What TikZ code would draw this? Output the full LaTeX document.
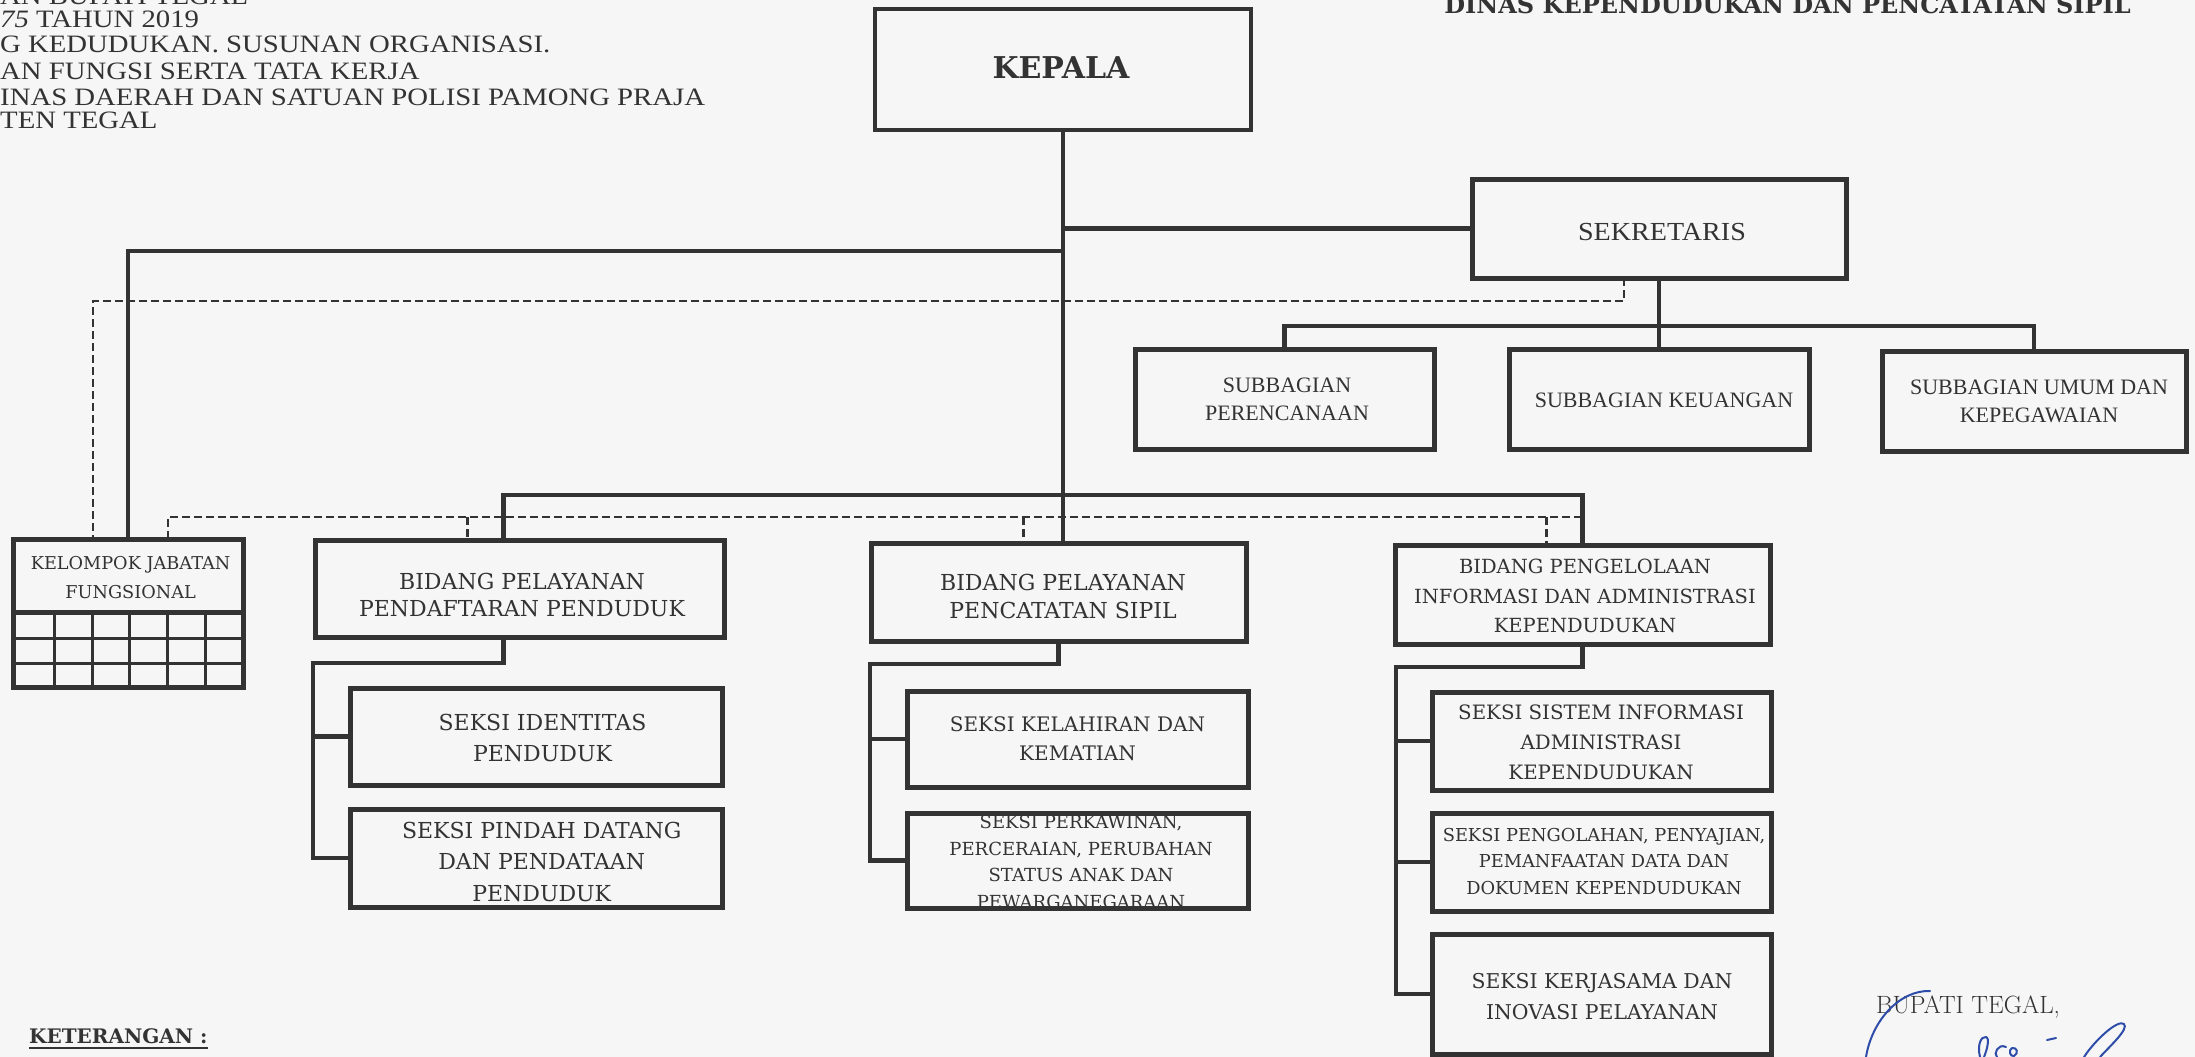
\documentclass[tikz,border=0pt]{standalone}
\usepackage{fontspec}
\usepackage{graphicx}
\newfontfamily\boxfont{DejaVu Serif}
\newfontfamily\condfont{Liberation Serif}
\definecolor{ink}{HTML}{333333}
\definecolor{paper}{HTML}{F6F6F7}
\definecolor{pen}{HTML}{2E4DA8}
\newcommand{\hdrline}[1]{\scalebox{1.15}[1]{#1}}

\begin{document}
\begin{tikzpicture}[x=1pt,y=-1pt,
  frame/.style={draw=ink, line width=5pt, inner sep=0pt, outer sep=0pt},
  conn/.style={draw=ink, line width=4.5pt},
  dashline/.style={draw=ink, line width=2.6pt, dash pattern=on 8pt off 4pt},
  gridline/.style={draw=ink, line width=3pt},
  lab/.style={align=center, text=ink, inner sep=0pt},
  hdr/.style={anchor=base west, inner sep=0pt, text=ink, font=\condfont\fontsize{25}{25}\selectfont},
  sig/.style={draw=pen, line width=2pt, line cap=round, line join=round},
]
% page
\fill[paper] (0,0) rectangle (2195,1057);
\useasboundingbox (0,0) rectangle (2195,1057);

% heading block, top left
\node[hdr] (h1) at (0,5) {\hdrline{AN BUPATI TEGAL}};
\node[hdr] (h2) at (0,28) {\hdrline{\itshape 75\upshape\ TAHUN 2019}};
\node[hdr] (h3) at (0,53) {\hdrline{G KEDUDUKAN. SUSUNAN ORGANISASI.}};
\node[hdr] (h4) at (0,80) {\hdrline{AN FUNGSI SERTA TATA KERJA}};
\node[hdr] (h5) at (0,105) {\hdrline{INAS DAERAH DAN SATUAN POLISI PAMONG PRAJA}};
\node[hdr] (h6) at (0,128) {\hdrline{TEN TEGAL}};

% heading, top right
\node[anchor=base east, inner sep=0pt, text=ink, font=\boxfont\bfseries\fontsize{24}{24}\selectfont] (title) at (2131,14) {DINAS KEPENDUDUKAN DAN PENCATATAN SIPIL};

% texts of the units
\node[lab, font=\boxfont\bfseries\fontsize{30}{36}\selectfont] (kepala-t) at (1061,68) {KEPALA};
\node[lab, font=\condfont\fontsize{26}{30}\selectfont] (sekretaris-t) at (1662,232) {\scalebox{1.08}[1]{SEKRETARIS}};
\node[lab, font=\condfont\fontsize{22}{28}\selectfont] (perencanaan-t) at (1287,399) {SUBBAGIAN\\PERENCANAAN};
\node[lab, font=\condfont\fontsize{22}{28}\selectfont] (keuangan-t) at (1664,400) {SUBBAGIAN KEUANGAN};
\node[lab, font=\condfont\fontsize{22}{28}\selectfont] (umum-t) at (2039,401) {SUBBAGIAN UMUM DAN\\KEPEGAWAIAN};
\node[lab, font=\boxfont\fontsize{17.7}{29}\selectfont] (kelompok-t) at (130.6,577.5) {KELOMPOK JABATAN\\FUNGSIONAL};
\node[lab, font=\boxfont\fontsize{22}{27}\selectfont] (pendaftaran-t) at (522,595) {BIDANG PELAYANAN\\PENDAFTARAN PENDUDUK};
\node[lab, font=\boxfont\fontsize{22}{28}\selectfont] (pencatatan-t) at (1063,596) {BIDANG PELAYANAN\\PENCATATAN SIPIL};
\node[lab, font=\boxfont\fontsize{19.5}{29.5}\selectfont] (pengelolaan-t) at (1585,596) {BIDANG PENGELOLAAN\\INFORMASI DAN ADMINISTRASI\\KEPENDUDUKAN};
\node[lab, font=\boxfont\fontsize{22}{31}\selectfont] (identitas-t) at (542.5,737.5) {SEKSI IDENTITAS\\PENDUDUK};
\node[lab, font=\boxfont\fontsize{22}{31.5}\selectfont] (pindah-t) at (541.7,861.5) {SEKSI PINDAH DATANG\\DAN PENDATAAN\\PENDUDUK};
\node[lab, font=\boxfont\fontsize{20}{29}\selectfont] (kelahiran-t) at (1077.5,738.5) {SEKSI KELAHIRAN DAN\\KEMATIAN};
\node[lab, font=\boxfont\fontsize{18}{26.7}\selectfont] (perkawinan-t) at (1081,862) {SEKSI PERKAWINAN,\\PERCERAIAN, PERUBAHAN\\STATUS ANAK DAN\\PEWARGANEGARAAN};
\node[lab, font=\boxfont\fontsize{19.8}{30}\selectfont] (sistem-t) at (1601,742) {SEKSI SISTEM INFORMASI\\ADMINISTRASI\\KEPENDUDUKAN};
\node[lab, font=\boxfont\fontsize{17.8}{26.5}\selectfont] (pengolahan-t) at (1604,861.5) {SEKSI PENGOLAHAN, PENYAJIAN,\\PEMANFAATAN DATA DAN\\DOKUMEN KEPENDUDUKAN};
\node[lab, font=\boxfont\fontsize{20.4}{31}\selectfont] (kerjasama-t) at (1602,996.5) {SEKSI KERJASAMA DAN\\INOVASI PELAYANAN};

% unit boxes
\node[frame, line width=4pt, minimum width=376pt, minimum height=121pt] (kepala) at (1063,69.5) {};
\node[frame, minimum width=374pt, minimum height=99pt] (sekretaris) at (1659,228.5) {};
\node[frame, minimum width=299pt, minimum height=100pt] (perencanaan) at (1284.5,399) {};
\node[frame, minimum width=300pt, minimum height=100pt] (keuangan) at (1659,399) {};
\node[frame, minimum width=304pt, minimum height=100pt] (umum) at (2034,401) {};
\node[frame, minimum width=230pt, minimum height=148pt] (kelompok) at (128,613) {};
\node[frame, minimum width=409pt, minimum height=97pt] (pendaftaran) at (519.5,588.5) {};
\node[frame, minimum width=375pt, minimum height=98pt] (pencatatan) at (1058.5,592) {};
\node[frame, minimum width=375pt, minimum height=99pt] (pengelolaan) at (1582.5,594.5) {};
\node[frame, minimum width=372pt, minimum height=97pt] (identitas) at (536,736.5) {};
\node[frame, minimum width=372pt, minimum height=98pt] (pindah) at (536,858) {};
\node[frame, minimum width=341pt, minimum height=96pt] (kelahiran) at (1077.5,739) {};
\node[frame, minimum width=341pt, minimum height=95pt] (perkawinan) at (1077.5,860.5) {};
\node[frame, minimum width=339pt, minimum height=98pt] (sistem) at (1601.5,741) {};
\node[frame, minimum width=339pt, minimum height=98pt] (pengolahan) at (1601.5,862) {};
\node[frame, minimum width=339pt, minimum height=120pt] (kerjasama) at (1601.5,994) {};

% grid of the functional group
\draw[ink, line width=5pt] (13,612) -- (243,612);
\foreach \yy in {638,663} \draw[gridline] (13,\yy) -- (243,\yy);
\foreach \xx in {54,92,129,167,205} \draw[gridline] (\xx,612) -- (\xx,687);

% levels of the horizontal runs
\coordinate (lvlL) at (0,251);
\coordinate (lvlD1) at (0,301);
\coordinate (lvlS) at (0,326);
\coordinate (lvlB) at (0,495);
\coordinate (lvlD2) at (0,517);
\coordinate (pA) at ([xshift=-16pt]pendaftaran.north);
\coordinate (pB) at ([xshift=-16pt]pendaftaran.south);
\coordinate (sD) at ([xshift=-35pt]sekretaris.south);
\coordinate (kD) at ([xshift=-35pt]kelompok.north);
\coordinate (kE) at ([xshift=40pt]kelompok.north);
\coordinate (tP) at ([xshift=-52pt]pendaftaran.north);
\coordinate (tC) at ([xshift=-35pt]pencatatan.north);
\coordinate (tG) at ([xshift=-36pt]pengelolaan.north);
\coordinate (railP) at (313,663);
\coordinate (railC) at (870,664);
\coordinate (railG) at (1396,667);

% line of command
\draw[conn] (kepala.south) -- (kepala.south |- pencatatan.north);
\draw[conn] (kepala.south |- sekretaris.west) -- (sekretaris.west);
\draw[conn] (kepala.south |- lvlL) -| (kelompok.north);
\draw[conn] (sekretaris.south) -- (keuangan.north);
\draw[conn] (perencanaan.north) -- (perencanaan.north |- lvlS) -- (umum.north |- lvlS) -- (umum.north);
\draw[conn] (pA) -- (pA |- lvlB) -- (pengelolaan.north |- lvlB) -- (pengelolaan.north);

% line of coordination
\draw[dashline] (sD) -- (sD |- lvlD1) -- (kD |- lvlD1) -- (kD);
\draw[dashline] (kE) -- (kE |- lvlD2) -- (pengelolaan.north |- lvlD2);
\draw[dashline] (tP |- lvlD2) -- (tP);
\draw[dashline] (tC |- lvlD2) -- (tC);
\draw[dashline] (tG |- lvlD2) -- (tG);

% sections under each field
\draw[conn] (pB) |- (railP) -- (railP |- pindah.west) -- (pindah.west);
\draw[conn] (railP |- identitas.west) -- (identitas.west);
\draw[conn] (pencatatan.south) |- (railC) -- (railC |- perkawinan.west) -- (perkawinan.west);
\draw[conn] (railC |- kelahiran.west) -- (kelahiran.west);
\draw[conn] (pengelolaan.south) |- (railG) -- (railG |- kerjasama.west) -- (kerjasama.west);
\draw[conn] (railG |- sistem.west) -- (sistem.west);
\draw[conn] (railG |- pengolahan.west) -- (pengolahan.west);

% legend heading
\node[anchor=base west, inner sep=0pt, text=ink, font=\boxfont\bfseries\fontsize{20}{20}\selectfont] (ket) at (29,1043) {KETERANGAN :};
\draw[ink, line width=2.5pt] ([yshift=-5pt]ket.base west) -- ([yshift=-5pt]ket.base east);

% signature block
\node[anchor=base west, inner sep=0pt, text=ink, font=\rmfamily\fontsize{25}{25}\selectfont] (bupati) at (1876,1013) {BUPATI TEGAL,};
\draw[sig] (1930,991) .. controls (1900,990) and (1872,1020) .. (1866,1057);
\draw[sig] (1980,1057) .. controls (1977,1045) and (1981,1036) .. (1986,1037) .. controls (1990,1038) and (1987,1050) .. (1984,1057);
\draw[sig] (2006,1047) .. controls (1998,1043) and (1993,1054) .. (1997,1057);
\draw[sig] (2012,1048) .. controls (2008,1050) and (2010,1057) .. (2014,1056) .. controls (2019,1053) and (2017,1047) .. (2012,1048);
\draw[sig] (2047,1040) -- (2056,1038);
\draw[sig] (2084,1057) .. controls (2095,1040) and (2118,1019) .. (2124,1024) .. controls (2129,1029) and (2110,1046) .. (2100,1057);
\end{tikzpicture}
\end{document}
